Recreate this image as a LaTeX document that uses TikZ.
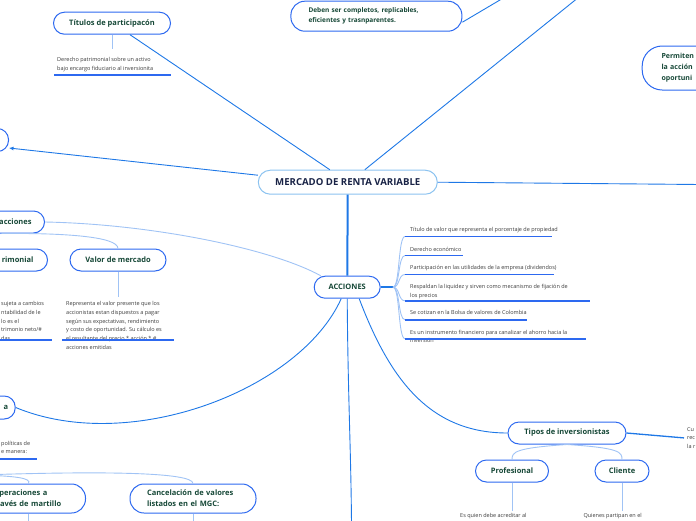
\documentclass[tikz,border=0pt]{standalone}
\usepackage{fontspec}
\setmainfont{Open Sans}
\usepackage{tikz}
\usetikzlibrary{arrows.meta}

\definecolor{borderblue}{RGB}{45,105,240}
\definecolor{rootborder}{RGB}{140,195,240}
\definecolor{linkblue}{RGB}{30,120,230}
\definecolor{paleblue}{RGB}{160,195,245}
\definecolor{topicgreen}{RGB}{22,72,55}
\definecolor{rootnavy}{RGB}{25,35,70}
\definecolor{notegray}{RGB}{60,60,60}

\tikzset{
    topic/.style={draw=borderblue, line width=1pt, fill=white, rounded corners=11pt, minimum height=22pt, inner sep=0pt, text=topicgreen, font=\bfseries\fontsize{7.5}{11}\selectfont},
    root/.style={topic, draw=rootborder, text=rootnavy, minimum height=24pt, rounded corners=12pt, font=\bfseries\fontsize{9.6}{11}\selectfont},
    note/.style={inner sep=0pt, align=left, text=notegray, font=\fontsize{5.5}{8.7}\selectfont},
    link/.style={draw=linkblue, line width=0.9pt},
    palelink/.style={draw=paleblue, line width=0.9pt},
    uline/.style={draw=borderblue, line width=1.8pt},
}

\begin{document}
\begin{tikzpicture}[x=1pt,y=-1pt]
    \useasboundingbox (0,0) rectangle (696,520);
    \clip (0,0) rectangle (696,520);

    \node[root, minimum width=179pt] (mercado) at (347.8,182.2) {MERCADO DE RENTA VARIABLE};
    \node[topic, minimum width=66pt] (accion) at (347.2,287.2) {ACCIONES};
    \node[topic, minimum width=117pt] (titulos) at (112,23.2) {Títulos de participacón};
    \node[topic, minimum width=171pt, minimum height=30pt, rounded corners=14pt, inner xsep=17.6pt, text width=135.8pt, align=left, font=\bfseries\fontsize{6.5}{10}\selectfont] (deben) at (376.4,16.2) {Deben ser completos, replicables,\\eficientes y trasnparentes.};
    \node[topic, anchor=west, minimum height=44pt, rounded corners=20pt, inner xsep=19.3pt, text width=60pt, align=left, font=\bfseries\fontsize{7}{11}\selectfont] (permiten) at (641.7,68) {Permiten\\la acción\\oportuni};
    \node[topic, anchor=east, minimum width=50pt, minimum height=23pt] (izq) at (9,140) {};
    \node[topic, anchor=east, inner xsep=13pt, text width=60pt, align=right] (valacc) at (45,222) {acciones};
    \node[topic, anchor=east, inner xsep=14pt, text width=60pt, align=right] (patrim) at (48,260) {rimonial};
    \node[topic, minimum width=96pt] (valormer) at (118,260) {Valor de mercado};
    \node[topic, anchor=east, minimum height=23pt, inner xsep=7pt, text width=40pt, align=right] (bolsa) at (15.7,407.5) {a};
    \node[topic, anchor=east, minimum height=29pt, rounded corners=14pt, inner xsep=22pt, text width=70pt, align=left] (martillo) at (86,498.5) {Operaciones a\\través de martillo};
    \node[topic, minimum height=29pt, rounded corners=14pt, inner xsep=17pt, text width=92pt, align=left] (cancel) at (193,498.5) {Cancelación de valores\\listados en el MGC:};
    \node[topic, minimum width=118pt] (tipos) at (567,433) {Tipos de inversionistas};
    \node[topic, minimum width=73pt] (prof) at (512,471) {Profesional};
    \node[topic, minimum width=54pt] (cliente) at (622,471) {Cliente};

    \node[note, anchor=north west] (derecho) at (57,57.3) {Derecho patrimonial sobre un activo\\bajo encargo fiduciario al inversionita};
    \node[note, anchor=west, inner xsep=4pt] (i1) at (406,230.5) {Título de valor que representa el porcentaje de propiedad};
    \node[note, anchor=west, inner xsep=4pt] (i2) at (406,249.4) {Derecho económico};
    \node[note, anchor=west, inner xsep=4pt] (i3) at (406,268.5) {Participación en las utilidades de la empresa (dividendos)};
    \node[note, anchor=west, inner xsep=4pt] (i4) at (406,291.4) {Respaldan la liquidez y sirven como mecanismo de fijación de\\los precios};
    \node[note, anchor=west, inner xsep=4pt] (i5) at (406,312.9) {Se cotizan en la Bolsa de valores de Colombia};
    \node[note, anchor=west, inner xsep=4pt] (i6) at (406,336.3) {Es un instrumento financiero para canalizar el ahorro hacia la\\inversión};
    \node[note, anchor=north west] (vmnote) at (66,301.3) {Representa el valor presente que los\\accionistas estan dispuestos a pagar\\según sus expectativas, rendimiento\\y costo de oportunidad. Su cálculo es\\el resultante del precio * acción * \#\\acciones emitidas};
    \node[note, anchor=north west] (pnote) at (1,301.3) {sujeta a cambios\\ntabilidad de le\\lo es el\\trimonio neto/\#\\das};
    \node[note, anchor=north west] (bnote) at (1,440.8) {políticas de\\e manera:};
    \node[note, anchor=north west, inner xsep=3pt] (cunote) at (684,427) {Cu\\rec\\la r};
    \node[note, anchor=base west] (pronote) at (460,517.3) {Es quien debe acreditar al};
    \node[note, anchor=base west] (clinote) at (583.3,517.3) {Quienes partipan en el};

    \coordinate (fork) at (393,287.2);
    \coordinate (u1) at (405,236.5);
    \coordinate (u2) at (405,255.5);
    \coordinate (u3) at (405,274.5);
    \coordinate (u4) at (405,300.8);
    \coordinate (u5) at (405,319.7);
    \coordinate (u6) at (405,338.7);
    \coordinate (arriba1) at (579,-3);
    \coordinate (arriba2) at (505,-3);
    \coordinate (derecha) at (700,184.5);
    \coordinate (abajo) at (351.5,525);
    \coordinate (mgc) at (-20,475);

    \draw[link, line width=2pt] (mercado) -- (accion);
    \draw[link] ([xshift=-18pt]mercado.north) -- ([xshift=18pt]titulos.south);
    \draw[link] ([xshift=17pt]mercado.north) -- (arriba1);
    \draw[link] ([yshift=-6pt]deben.east) -- (arriba2);
    \draw[link, -{Latex[length=4.5pt,width=4pt]}] ([yshift=7pt]mercado.west) -- ([yshift=-8pt]izq.east);
    \draw[link] (mercado.east) -- (derecha);
    \draw[palelink] (titulos.south) -- ++(0,14.5);
    \draw[uline] (54,75.3) -- (170.7,75.3);

    \draw[link, line width=1.6pt] (accion.east) -- (fork);
    \draw[palelink] (fork) .. controls +(7,0) and +(-7,0) .. (u1);
    \draw[palelink] (fork) .. controls +(7,0) and +(-7,0) .. (u2);
    \draw[palelink] (fork) .. controls +(7,0) and +(-7,0) .. (u3);
    \draw[palelink] (fork) .. controls +(7,0) and +(-7,0) .. (u4);
    \draw[palelink] (fork) .. controls +(7,0) and +(-7,0) .. (u5);
    \draw[palelink] (fork) .. controls +(7,0) and +(-7,0) .. (u6);
    \draw[uline] (u1) -- ++(147,0);
    \draw[uline] (u2) -- ++(58,0);
    \draw[uline] (u3) -- ++(149,0);
    \draw[uline] (u4) -- ++(185,0);
    \draw[uline] (u5) -- ++(122,0);
    \draw[uline] (u6) -- ++(181,0);

    \draw[palelink] ([xshift=7pt]accion.north west) .. controls (270,248) and (150,224) .. (valacc.east);
    \draw[palelink] (valacc.south) .. controls (60,233) and (118,236) .. (valormer.north);
    \draw[palelink] (valormer.south) -- ++(0,25.7);
    \draw[uline] (62,340) -- (174,340);
    \draw[uline] (0,340) -- (52,340);

    \draw[link] ([xshift=-6pt]accion.south) .. controls (300,390) and (130,455) .. (bolsa.east);
    \draw[uline] (0,459.3) -- (37,459.3);
    \draw[palelink] (mgc) .. controls (15,476) and (32,478) .. (martillo.north);
    \draw[palelink] (mgc) .. controls (100,471) and (193,472) .. (cancel.north);
    \draw[palelink] (martillo.south) -- ++(0,10);
    \draw[palelink] (cancel.south) -- ++(0,10);

    \draw[link] (accion.south) .. controls (348,400) and (351,450) .. (abajo);
    \draw[link] ([xshift=12pt]accion.south) .. controls (390,380) and (430,433) .. (tipos.west);
    \draw[link, line width=1.3pt] (tipos.east) -- (cunote.west);
    \draw[palelink] (tipos.south) .. controls (515,448) and (512,452) .. (prof.north);
    \draw[palelink] (tipos.south) .. controls (620,448) and (622,452) .. (cliente.north);
    \draw[palelink] (prof.south) -- ++(0,28);
    \draw[palelink] (cliente.south) -- ++(0,28);
\end{tikzpicture}
\end{document}
